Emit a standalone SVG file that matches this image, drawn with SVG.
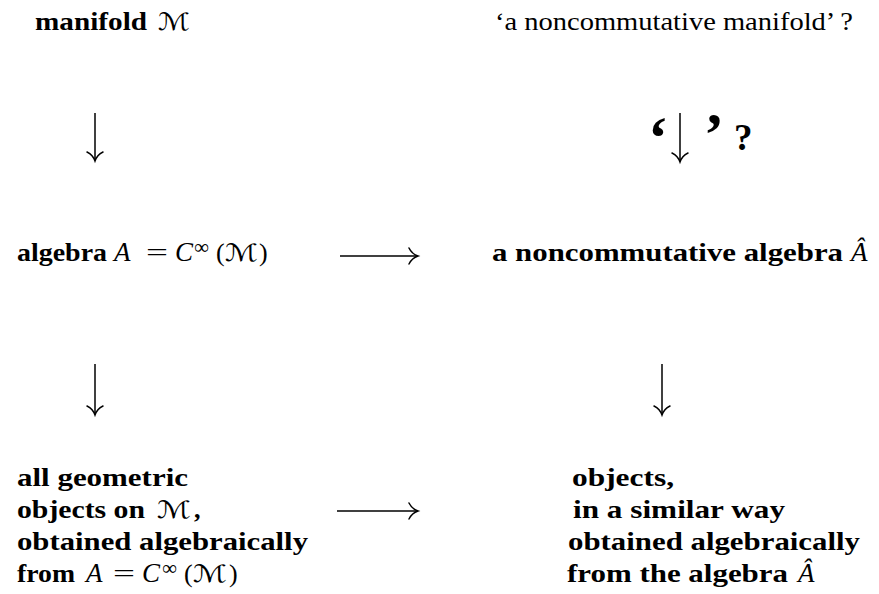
<svg xmlns="http://www.w3.org/2000/svg" width="879" height="594" viewBox="0 0 879 594">
<defs>
<style>
text{font-family:"Liberation Serif",serif;font-size:26px;fill:#000}
.b{font-weight:bold}
.i{font-style:italic;font-size:27px}
.s{font-family:"DejaVu Serif","DejaVu Sans",serif;font-style:italic;font-size:24px}
.sup{font-size:21px}
.arr{stroke:#000;stroke-width:1.5;fill:none}
.head{stroke:#000;stroke-width:1.5;fill:none;stroke-linecap:round}
.q{font-weight:bold;font-size:60px}
.qm{font-weight:bold;font-size:37px}
</style>
</defs>
<rect width="879" height="594" fill="#fff"/>
<g id="n-manifold">
<text x="35" y="30" class="b" textLength="112" lengthAdjust="spacingAndGlyphs">manifold</text>
<text x="158" y="30" class="s" textLength="32" lengthAdjust="spacingAndGlyphs">ℳ</text>
</g>
<g id="n-ncmanifold">
<text x="495" y="30" textLength="358" lengthAdjust="spacingAndGlyphs">‘a noncommutative manifold’ ?</text>
</g>
<g id="n-algebra">
<text x="17" y="261" class="b" textLength="90" lengthAdjust="spacingAndGlyphs">algebra</text>
<text x="114" y="261" class="i">A</text>
<text x="146" y="261" textLength="22" lengthAdjust="spacingAndGlyphs">=</text>
<text x="175" y="261" class="i">C</text>
<text x="194" y="254" class="sup">∞</text>
<text x="216" y="261">(</text>
<text x="225" y="261" class="s" textLength="33" lengthAdjust="spacingAndGlyphs">ℳ</text>
<text x="259" y="261">)</text>
</g>
<g id="n-ncalgebra">
<text x="492" y="261" class="b" textLength="351" lengthAdjust="spacingAndGlyphs">a noncommutative algebra</text>
<text x="851" y="261" class="i">Â</text>
</g>
<g id="n-objects">
<text x="17" y="486" class="b" textLength="171" lengthAdjust="spacingAndGlyphs">all geometric</text>
<text x="17" y="518" class="b" textLength="128" lengthAdjust="spacingAndGlyphs">objects on</text>
<text x="157" y="518" class="s" textLength="34" lengthAdjust="spacingAndGlyphs">ℳ</text>
<text x="194" y="518" class="b">,</text>
<text x="17" y="550" class="b" textLength="291" lengthAdjust="spacingAndGlyphs">obtained algebraically</text>
<text x="17" y="582" class="b" textLength="58" lengthAdjust="spacingAndGlyphs">from</text>
<text x="86" y="582" class="i">A</text>
<text x="113" y="582" textLength="22" lengthAdjust="spacingAndGlyphs">=</text>
<text x="142" y="582" class="i">C</text>
<text x="162" y="575" class="sup">∞</text>
<text x="184" y="582">(</text>
<text x="193" y="582" class="s" textLength="34" lengthAdjust="spacingAndGlyphs">ℳ</text>
<text x="229" y="582">)</text>
</g>
<g id="n-ncobjects">
<text x="572" y="486" class="b" textLength="102" lengthAdjust="spacingAndGlyphs">objects,</text>
<text x="573" y="518" class="b" textLength="212" lengthAdjust="spacingAndGlyphs">in a similar way</text>
<text x="568" y="550" class="b" textLength="292" lengthAdjust="spacingAndGlyphs">obtained algebraically</text>
<text x="567" y="582" class="b" textLength="221" lengthAdjust="spacingAndGlyphs">from the algebra</text>
<text x="798" y="582" class="i">Â</text>
</g>
<g id="connectors">
<path class="arr" d="M95 113V160"/>
<path class="head" d="M87 152Q93 155 95 161Q97 155 103 152"/>
<path class="arr" d="M95 364V414"/>
<path class="head" d="M87 406Q93 409 95 415Q97 409 103 406"/>
<path class="arr" d="M662 364V414"/>
<path class="head" d="M654 406Q660 409 662 415Q664 409 670 406"/>
<path class="arr" d="M680 113V161"/>
<path class="head" d="M672 153Q678 156 680 162Q682 156 688 153"/>
<path class="arr" d="M340 256H417"/>
<path class="head" d="M409 248Q412 254 418 256Q412 258 409 264"/>
<path class="arr" d="M337 511H417"/>
<path class="head" d="M409 503Q412 509 418 511Q412 513 409 519"/>
<text x="648" y="158" class="q">‘</text>
<text x="704" y="154" class="q">’</text>
<text x="734" y="150" class="qm">?</text>
</g>
</svg>
